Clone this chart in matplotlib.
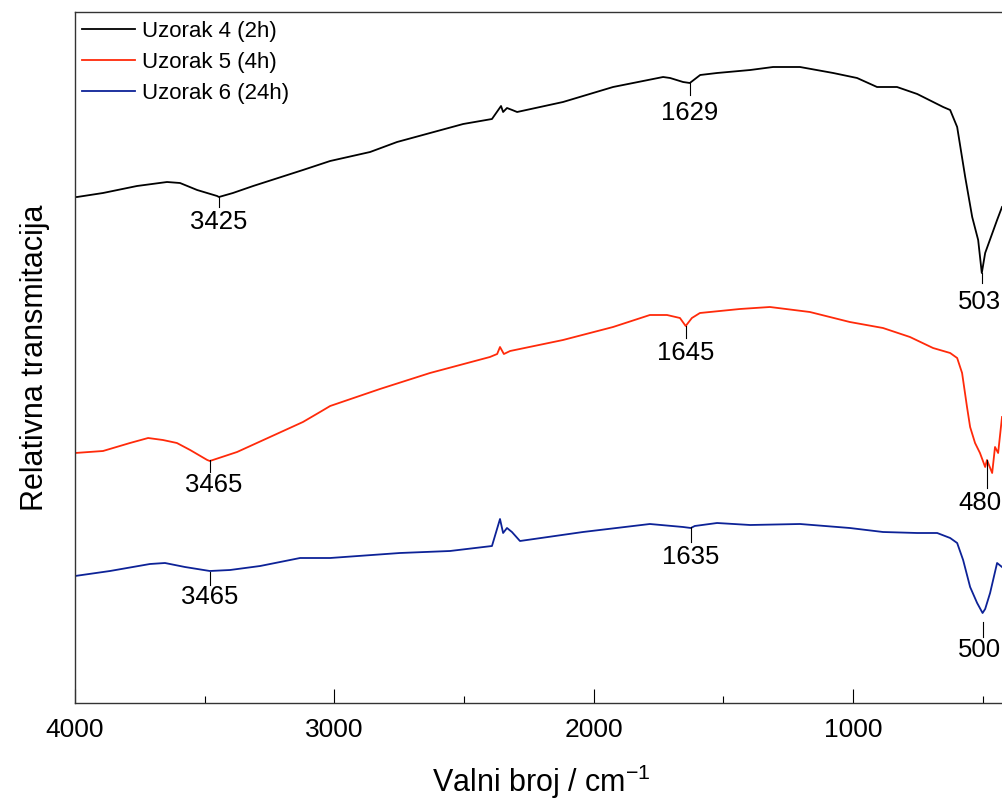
import numpy as np
import matplotlib.pyplot as plt
from matplotlib.ticker import MultipleLocator

plt.rcParams['font.family'] = ['Liberation Sans', 'DejaVu Sans']
plt.rcParams['mathtext.fontset'] = 'custom'
plt.rcParams['mathtext.rm'] = 'Liberation Sans'

# wavenumbers (cm^-1) and relative transmittance (a.u.)
wn_4 = [4000, 3992, 3892, 3761, 3645, 3595, 3529, 3452, 3445, 3391, 3313, 3121,
        3016, 2862, 2758, 2503, 2392, 2357, 2349, 2334, 2314, 2295, 2118, 1925,
        1732, 1705, 1655, 1629, 1589, 1524, 1396, 1308, 1204, 1076, 984, 907,
        830, 752, 652, 625, 598, 567, 540, 517, 503, 490, 444, 425]
t_4 = [50.6, 50.6, 51.0, 51.7, 52.1, 52.0, 51.3, 50.7, 50.6, 51.0, 51.7, 53.3,
       54.2, 55.1, 56.1, 57.9, 58.4, 59.7, 59.1, 59.5, 59.3, 59.1, 60.1, 61.6,
       62.6, 62.5, 62.1, 62.0, 62.8, 63.0, 63.3, 63.6, 63.6, 63.0, 62.5, 61.6,
       61.6, 60.9, 59.6, 59.3, 57.6, 52.6, 48.6, 46.3, 43.0, 45.0, 48.3, 49.6]

wn_5 = [4000, 3892, 3788, 3718, 3661, 3607, 3556, 3490, 3480, 3375, 3248, 3121,
        3055, 3016, 2824, 2631, 2400, 2372, 2361, 2346, 2322, 2118, 1925, 1783,
        1717, 1667, 1645, 1621, 1590, 1436, 1320, 1166, 1012, 884, 780, 691,
        625, 598, 579, 560, 548, 529, 510, 490, 483, 463, 452, 440, 425]
t_5 = [25.0, 25.2, 26.0, 26.5, 26.3, 26.0, 25.3, 24.3, 24.2, 25.1, 26.6, 28.1,
       29.1, 29.7, 31.4, 33.0, 34.6, 34.9, 35.6, 34.9, 35.2, 36.3, 37.6, 38.8,
       38.8, 38.5, 37.7, 38.5, 39.0, 39.4, 39.6, 39.1, 38.1, 37.5, 36.6, 35.5,
       35.0, 34.5, 33.0, 29.6, 27.6, 26.0, 25.0, 23.6, 24.3, 23.0, 25.6, 25.0, 28.6]

wn_6 = [4000, 3865, 3711, 3653, 3576, 3480, 3402, 3286, 3132, 3016, 2747, 2554,
        2392, 2361, 2349, 2334, 2315, 2284, 2041, 1783, 1655, 1625, 1610, 1524,
        1396, 1204, 1012, 884, 752, 675, 625, 598, 575, 548, 521, 500, 490,
        471, 444, 425]
t_6 = [12.7, 13.2, 13.9, 14.0, 13.6, 13.2, 13.3, 13.7, 14.5, 14.5, 15.0, 15.2,
       15.7, 18.4, 17.0, 17.5, 17.1, 16.2, 17.1, 17.9, 17.6, 17.5, 17.7, 18.0,
       17.8, 17.9, 17.5, 17.1, 17.0, 17.0, 16.5, 16.0, 14.3, 11.6, 10.0, 9.0, 9.4,
       11.0, 14.0, 13.6]

labels = ['Uzorak 4 (2h)', 'Uzorak 5 (4h)', 'Uzorak 6 (24h)']
colors = ['#000000', '#ff2a0a', '#0d2297']

# peak labels: text, tick wavenumber, tick top, tick bottom, text x, text y, alignment
peaks = [('3425', 3445, 50.6, 49.6, 3445, 48.1, 'center'),
         ('1629', 1629, 62.0, 60.8, 1629, 59.0, 'center'),
         ('503', 503, 43.0, 42.0, 427, 40.1, 'right'),
         ('3465', 3480, 24.3, 23.1, 3465, 21.8, 'center'),
         ('1645', 1645, 37.7, 36.5, 1645, 35.0, 'center'),
         ('480', 483, 24.3, 21.5, 427, 20.0, 'right'),
         ('3465', 3480, 13.1, 11.8, 3480, 10.6, 'center'),
         ('1635', 1625, 17.6, 16.1, 1625, 14.6, 'center'),
         ('500', 500, 8.1, 6.6, 427, 5.3, 'right')]

fig = plt.figure(figsize=(10.02, 8.05), dpi=100)
ax = fig.add_axes([75 / 1002, 102 / 805, 933.5 / 1002, 691 / 805])

for wn, t, lab, c in zip([wn_4, wn_5, wn_6], [t_4, t_5, t_6], labels, colors):
    ax.plot(wn, t, color=c, lw=1.3, label=lab)

for txt, x, y1, y2, xt, yt, ha in peaks:
    ax.plot([x, x], [y1, y2], color='k', lw=0.8)
    ax.text(xt, yt, txt, ha=ha, va='center', fontsize=18.5)

ax.set_xlim(4000, 400)
ax.set_ylim(0, 69.1)
ax.xaxis.set_major_locator(MultipleLocator(1000))
ax.xaxis.set_minor_locator(MultipleLocator(500))
ax.set_yticks([])
ax.tick_params(axis='x', which='major', direction='in', length=10, width=0.8,
               labelsize=19, pad=11, top=False)
ax.tick_params(axis='x', which='minor', direction='in', length=5, width=0.8, top=False)
for s in ax.spines.values():
    s.set_color('#333333')
    s.set_linewidth(1.0)

ax.set_xlabel('Valni broj / cm$^{\\mathrm{-1}}$', fontsize=22, labelpad=15)
ax.set_ylabel('Relativna transmitacija', fontsize=22, labelpad=18)

ax.legend(loc='upper left', frameon=False, fontsize=16, handlelength=2.4,
          handletextpad=0.3, labelspacing=0.45, borderaxespad=0.0, borderpad=0.3,
          bbox_to_anchor=(0.0, 0.997))

fig.savefig('out.png', dpi=100)
